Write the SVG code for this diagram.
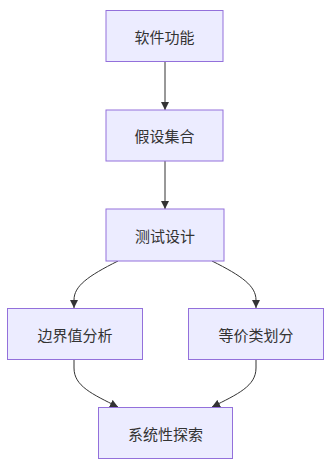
<svg xmlns="http://www.w3.org/2000/svg" width="330" height="470" viewBox="0 0 330 470">
<style>
.node rect{fill:#ECECFF;stroke:#9370DB;stroke-width:1}
.node text{font-family:"Noto Sans CJK SC","Liberation Sans",sans-serif;font-size:15px;fill:#333;text-anchor:middle;dominant-baseline:central}
.edge{fill:none;stroke:#333;stroke-width:1}
</style>
<defs>
<marker id="arrow" viewBox="0 0 10 10" refX="10" refY="5" markerWidth="8" markerHeight="8" markerUnits="userSpaceOnUse" orient="auto">
<path d="M0,0 L10,5 L0,10 z" fill="#333"/>
</marker>
</defs>
<rect width="330" height="470" fill="#fff"/>
<g id="connectors">
<path class="edge" d="M165,62 L165,110" marker-end="url(#arrow)"/>
<path class="edge" d="M165,161 L165,209" marker-end="url(#arrow)"/>
<path class="edge" d="M118,261 C88,276 74,286 74,300 L74,308" marker-end="url(#arrow)"/>
<path class="edge" d="M212,261 C242,276 256,286 256,300 L256,308" marker-end="url(#arrow)"/>
<path class="edge" d="M74,360 L74,368 C74,386 92,394 118,407" marker-end="url(#arrow)"/>
<path class="edge" d="M256,360 L256,368 C256,386 238,394 212,407" marker-end="url(#arrow)"/>
</g>
<g id="n1" class="node"><rect x="106" y="10.5" width="117" height="51"/><text x="164.5" y="36">软件功能</text></g>
<g id="n2" class="node"><rect x="106" y="110" width="117" height="51"/><text x="164.5" y="135.5">假设集合</text></g>
<g id="n3" class="node"><rect x="106" y="209" width="118" height="52"/><text x="165" y="235">测试设计</text></g>
<g id="n4" class="node"><rect x="7.5" y="308.5" width="135" height="51"/><text x="75" y="334">边界值分析</text></g>
<g id="n5" class="node"><rect x="188.5" y="308.5" width="135" height="51"/><text x="256" y="334">等价类划分</text></g>
<g id="n6" class="node"><rect x="98.5" y="407.5" width="134" height="51"/><text x="165.5" y="433">系统性探索</text></g>
</svg>
